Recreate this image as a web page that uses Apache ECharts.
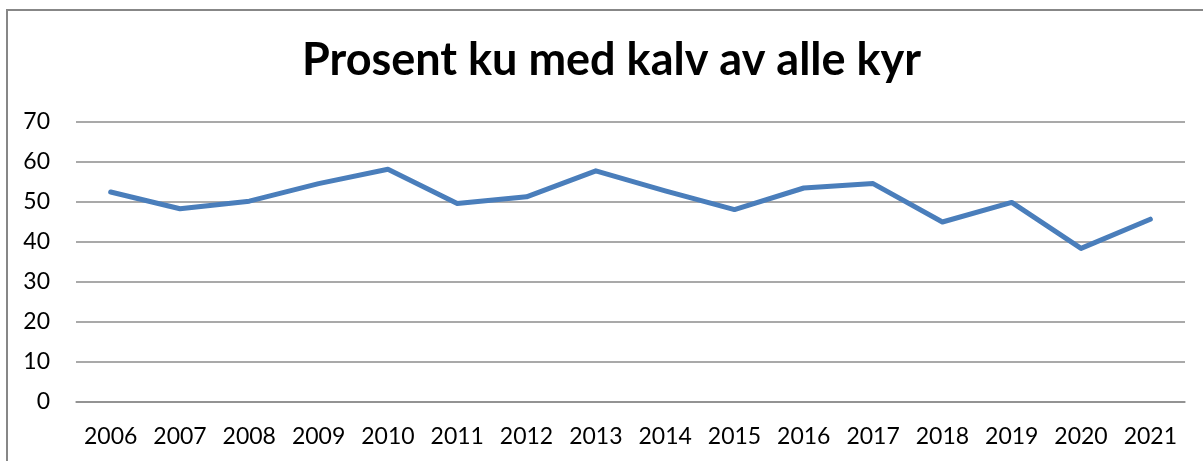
<!DOCTYPE html>
<html>
<head>
<meta charset="utf-8">
<script src="https://cdn.jsdelivr.net/npm/echarts@6/dist/echarts.min.js"></script>
<style>
    html, body { margin: 0; padding: 0; background: #fff; }
    #main { width: 1203px; height: 461px; }
</style>
</head>
<body>
<div id="main"></div>
<script>
    // data
    var years = ['2006', '2007', '2008', '2009', '2010', '2011', '2012', '2013',
        '2014', '2015', '2016', '2017', '2018', '2019', '2020', '2021'];
    var prosent = [52.5, 48.3, 50.2, 54.6, 58.2, 49.6, 51.3, 57.8,
        52.8, 48.1, 53.5, 54.6, 45.0, 49.9, 38.4, 45.7];
    var titleText = 'Prosent ku med kalv av alle kyr';

    var myChart = echarts.init(document.getElementById('main'));
    var gridColor = '#8c8c8c';
    var option = {
        animation: false,
        backgroundColor: '#fff',
        title: {
            text: titleText,
            left: 297,
            top: 33,
            textStyle: {
                fontFamily: 'Lato',
                fontWeight: 'bold',
                fontSize: 45,
                color: '#000'
            }
        },
        graphic: [{
            type: 'rect',
            shape: {x: 7, y: 10, width: 1400, height: 600},
            style: {fill: 'none', stroke: '#878787', lineWidth: 2},
            silent: true
        }],
        grid: {
            left: 76,
            right: 18,
            top: 122,
            bottom: 59
        },
        xAxis: {
            type: 'category',
            data: years,
            boundaryGap: true,
            axisLine: {lineStyle: {color: gridColor, width: 1.5}},
            axisTick: {show: false},
            axisLabel: {
                interval: 0,
                color: '#000',
                fontFamily: 'Lato',
                fontSize: 23,
                margin: 23
            }
        },
        yAxis: {
            type: 'value',
            min: 0,
            max: 70,
            interval: 10,
            axisLine: {show: false},
            axisTick: {show: false},
            axisLabel: {
                color: '#000',
                fontFamily: 'Lato',
                fontSize: 23,
                margin: 26
            },
            splitLine: {lineStyle: {color: gridColor, width: 1.5}}
        },
        series: [{
            name: 'Prosent',
            type: 'line',
            data: prosent,
            symbol: 'none',
            lineStyle: {color: '#4a7ebb', width: 5, join: 'round', cap: 'round'}
        }]
    };
    myChart.setOption(option);
</script>
</body>
</html>
